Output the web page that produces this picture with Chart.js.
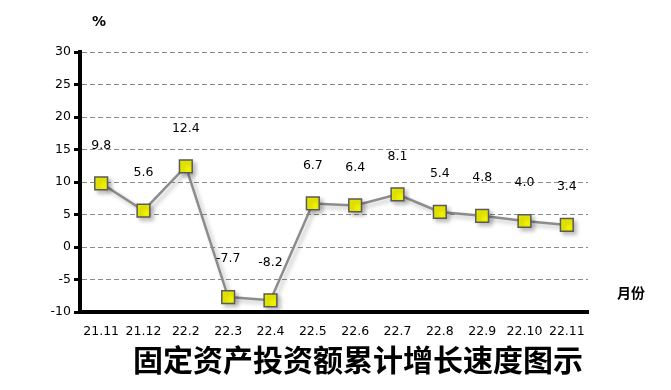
<!DOCTYPE html>
<html>
<head>
<meta charset="utf-8">
<script src="https://cdn.jsdelivr.net/npm/chart.js@4"></script>
<style>
  html, body { margin: 0; padding: 0; background: #fff; }
  #wrap { width: 671px; height: 390px; position: relative; }
</style>
</head>
<body>
<div id="wrap"><canvas id="growthChart"></canvas></div>
<script>
const months = ['21.11', '21.12', '22.2', '22.3', '22.4', '22.5', '22.6', '22.7', '22.8', '22.9', '22.10', '22.11'];
const growth = [9.8, 5.6, 12.4, -7.7, -8.2, 6.7, 6.4, 8.1, 5.4, 4.8, 4.0, 3.4];
const titleText = '固定资产投资额累计增长速度图示';
const unitText = '%';
const xAxisText = '月份';

const tickFont = { family: 'DejaVu Sans', size: 12.5 };

// value labels above each marker, plus the loose texts around the plot
const textPlugin = {
  id: 'texts',
  afterDatasetsDraw(chart) {
    const ctx = chart.ctx;
    const meta = chart.getDatasetMeta(0);
    ctx.save();
    ctx.fillStyle = '#000';
    ctx.font = '12.5px "DejaVu Sans"';
    ctx.textAlign = 'center';
    ctx.textBaseline = 'middle';
    meta.data.forEach((pt, i) => {
      ctx.fillText(growth[i].toFixed(1), pt.x, pt.y - 38);
    });
    ctx.font = 'bold 14px "DejaVu Sans"';
    ctx.fillText(unitText, 99, 22);
    ctx.font = 'bold 14px "Noto Sans CJK SC"';
    ctx.fillText(xAxisText, 631, 293);
    ctx.font = 'bold 30px "Noto Sans CJK SC"';
    ctx.fillText(titleText, 358, 360);
    ctx.restore();
  }
};

// soft shadow under the line and markers
const shadowPlugin = {
  id: 'shadow',
  beforeDatasetDraw(chart) {
    const ctx = chart.ctx;
    ctx.save();
    ctx.shadowColor = 'rgba(0,0,0,0.25)';
    ctx.shadowBlur = 4;
    ctx.shadowOffsetX = 3;
    ctx.shadowOffsetY = 3;
  },
  afterDatasetDraw(chart) {
    chart.ctx.restore();
  }
};

new Chart(document.getElementById('growthChart').getContext('2d'), {
  type: 'line',
  data: {
    labels: months,
    datasets: [{
      data: growth,
      borderColor: '#8c8c8c',
      borderWidth: 2.5,
      tension: 0,
      pointStyle: 'rect',
      pointRadius: 9,
      pointHoverRadius: 9,
      pointBackgroundColor: '#f0f000',
      pointBorderColor: '#5a5a5a',
      pointBorderWidth: 1.5
    }]
  },
  options: {
    responsive: true,
    maintainAspectRatio: false,
    animation: false,
    layout: { padding: { top: 52, right: 83, left: 0, bottom: 0 } },
    plugins: {
      legend: { display: false },
      tooltip: { enabled: false }
    },
    scales: {
      x: {
        offset: true,
        afterFit: (s) => { s.height = 78; },
        grid: { display: false, drawTicks: false },
        border: { display: true, color: '#000', width: 4 },
        ticks: { color: '#000', font: tickFont, padding: 12, maxRotation: 0 }
      },
      y: {
        min: -10,
        max: 30,
        afterFit: (s) => { s.width = 80; },
        grid: {
          color: '#8a8a8a',
          lineWidth: 1,
          tickColor: '#000',
          tickLength: 6,
          tickWidth: 3
        },
        border: { display: true, color: '#000', width: 4, dash: [5, 3] },
        ticks: { stepSize: 5, color: '#000', font: tickFont, padding: 3 }
      }
    }
  },
  plugins: [shadowPlugin, textPlugin]
});
</script>
</body>
</html>
